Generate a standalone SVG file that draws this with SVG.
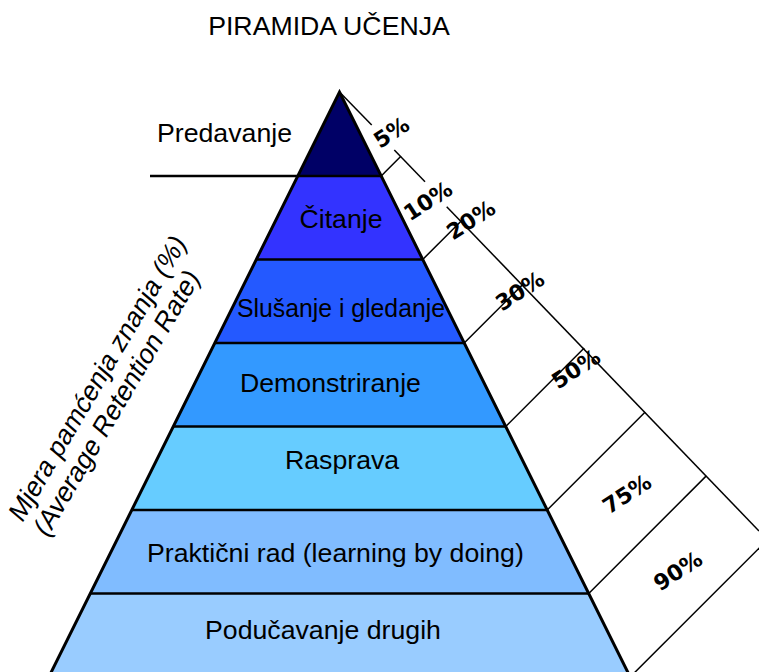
<svg xmlns="http://www.w3.org/2000/svg" width="759" height="672" viewBox="0 0 759 672">
<style>
.lbl{font-family:"Liberation Sans",Arial,sans-serif;font-size:26.7px;fill:#000}
.pct{font-family:"DejaVu Sans",Verdana,sans-serif;font-weight:bold;font-size:22px;fill:#000;text-anchor:middle;dominant-baseline:central}
.band{stroke:none}
.sep{stroke:#000;stroke-width:2.5;fill:none}
.scale{stroke:#000;stroke-width:1.5;fill:none}
</style>
<rect width="759" height="672" fill="#fff"/>
<text class="lbl" x="329" y="35" text-anchor="middle" font-size="27.3">PIRAMIDA UČENJA</text>
<g id="band-predavanje">
<polygon class="band" fill="#000066" points="339.5,92 381.2,176 297.8,176"/>
<text class="lbl" x="157" y="141.7">Predavanje</text>
</g>
<g id="band-citanje">
<polygon class="band" fill="#3333FF" points="297.8,176 381.2,176 422.7,259.5 256.3,259.5"/>
<text class="lbl" x="299.5" y="228">Čitanje</text>
</g>
<g id="band-slusanje">
<polygon class="band" fill="#2459FF" points="256.3,259.5 422.7,259.5 464.2,343 214.8,343"/>
<text class="lbl" x="237" y="316.7" textLength="208" lengthAdjust="spacingAndGlyphs">Slušanje i gledanje</text>
</g>
<g id="band-demonstriranje">
<polygon class="band" fill="#3399FF" points="214.8,343 464.2,343 505.7,426.5 173.3,426.5"/>
<text class="lbl" x="240" y="392">Demonstriranje</text>
</g>
<g id="band-rasprava">
<polygon class="band" fill="#66CCFF" points="173.3,426.5 505.7,426.5 547.2,510 131.8,510"/>
<text class="lbl" x="285" y="469.3">Rasprava</text>
</g>
<g id="band-prakticni">
<polygon class="band" fill="#80BCFF" points="131.8,510 547.2,510 588.7,593.5 90.3,593.5"/>
<text class="lbl" x="147" y="561.7">Praktični rad (learning by doing)</text>
</g>
<g id="band-poducavanje">
<polygon class="band" fill="#99CCFF" points="90.3,593.5 588.7,593.5 630.2,677 48.8,677"/>
<text class="lbl" x="205" y="639.3">Podučavanje drugih</text>
</g>
<g id="connectors">
<line class="sep" x1="150" y1="176" x2="381.2" y2="176"/>
<line class="sep" x1="256.3" y1="259.5" x2="422.7" y2="259.5"/>
<line class="sep" x1="214.8" y1="343" x2="464.2" y2="343"/>
<line class="sep" x1="173.3" y1="426.5" x2="505.7" y2="426.5"/>
<line class="sep" x1="131.8" y1="510" x2="547.2" y2="510"/>
<line class="sep" x1="90.3" y1="593.5" x2="588.7" y2="593.5"/>
<polyline points="48.8,677 339.5,92 630.2,677" fill="none" stroke="#000" stroke-width="3" stroke-linejoin="miter"/>
<line class="scale" x1="339.5" y1="92" x2="371.7" y2="125"/>
<line class="scale" x1="394.3" y1="150" x2="425" y2="181.7"/>
<line class="scale" x1="446.7" y1="206.7" x2="759" y2="531"/>
<line class="scale" x1="381.2" y1="176" x2="400.9" y2="156.3"/>
<line class="scale" x1="422.7" y1="259.5" x2="462" y2="220.2"/>
<line class="scale" x1="464.2" y1="343" x2="523.1" y2="284.1"/>
<line class="scale" x1="505.7" y1="426.5" x2="584.2" y2="348"/>
<line class="scale" x1="547.2" y1="510" x2="645.2" y2="412"/>
<line class="scale" x1="588.7" y1="593.5" x2="706.3" y2="475.9"/>
<line class="scale" x1="630.2" y1="677" x2="767.4" y2="539.8"/>
</g>
<g id="percent-labels">
<text class="pct" transform="translate(391.5,132.5) rotate(-33)">5%</text>
<text class="pct" transform="translate(428,201) rotate(-33)">10%</text>
<text class="pct" transform="translate(471,220) rotate(-33)">20%</text>
<text class="pct" transform="translate(520,291) rotate(-33)">30%</text>
<text class="pct" transform="translate(576,369) rotate(-33)">50%</text>
<text class="pct" transform="translate(627,494) rotate(-33)">75%</text>
<text class="pct" transform="translate(678,571) rotate(-33)">90%</text>
</g>
<g id="axis-label">
<text class="lbl" font-size="26" transform="translate(22,524) rotate(-59.5) skewX(-10)">Mjera pamćenja znanja (%)</text>
<text class="lbl" font-size="26" transform="translate(47,539) rotate(-59.5) skewX(-10)">(Average Retention Rate)</text>
</g>
</svg>
